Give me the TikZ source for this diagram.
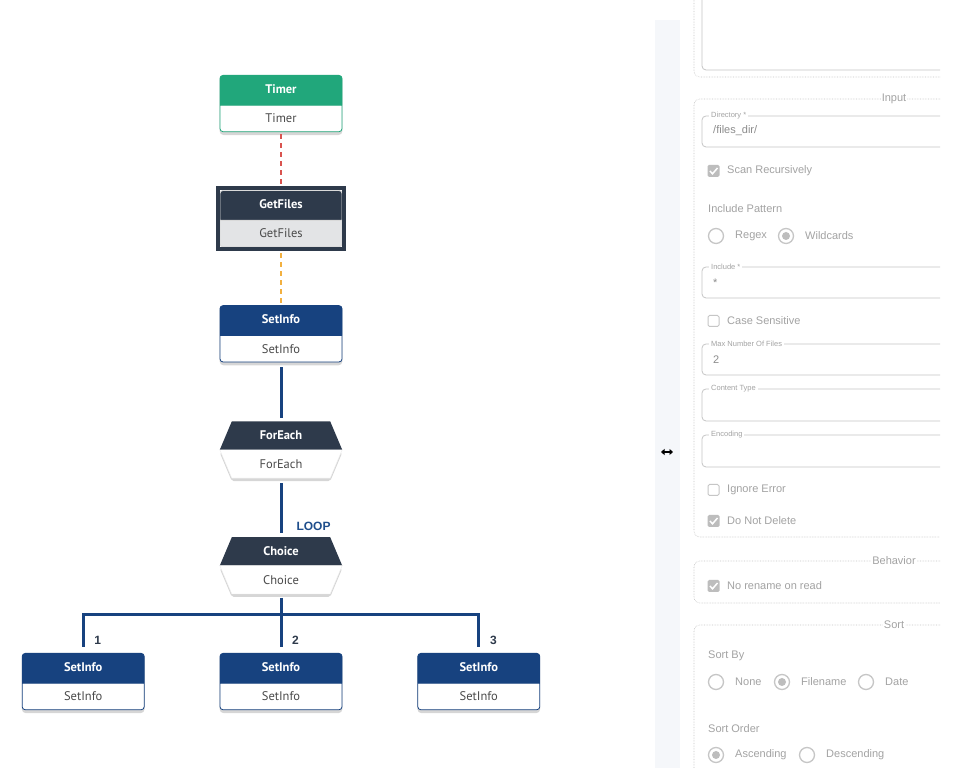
\documentclass[tikz,border=0pt]{standalone}
\usepackage{fontspec}
\setmainfont{Liberation Sans}
\newfontfamily\condfont{PT Sans}
\usepackage{xcolor}
\usepackage{tikz}
\usetikzlibrary{
	arrows.meta,
	positioning,
	fit,
	shapes.multipart,
	backgrounds
}

\definecolor{timergreen}{HTML}{21A77B}
\definecolor{slate}{HTML}{2E3A4B}
\definecolor{navy}{HTML}{17427F}
\definecolor{gfbody}{HTML}{E3E4E6}
\definecolor{bodytext}{HTML}{4A4A4A}
\definecolor{dashred}{HTML}{D9534F}
\definecolor{dashorange}{HTML}{F2B040}
\definecolor{loopblue}{HTML}{1F4E8C}
\definecolor{formtext}{HTML}{A3A3A3}
\definecolor{valtext}{HTML}{8C8C8C}
\definecolor{formline}{HTML}{C6C6C6}
\definecolor{chkgray}{HTML}{BDBDBD}
\definecolor{strip}{HTML}{F5F7FA}

\tikzset{
	boxshade/.style={fill=black, opacity=0.16, rounded corners=4pt},
	nodebox/.style={rectangle split, rectangle split parts=2, minimum width=122pt,
		inner ysep=8.3pt, text height=9.5pt, text depth=3pt, rounded corners=3pt,
		line width=0.8pt, font=\condfont\fontsize{12.5}{14}\selectfont},
	greenbox/.style={nodebox, draw=timergreen, rectangle split part fill={timergreen, white}},
	navybox/.style={nodebox, draw=navy, rectangle split part fill={navy, white}},
	slatebox/.style={nodebox, draw=gray!30, rectangle split part fill={slate, gfbody}},
	hexhead/.style={rectangle, minimum width=122pt, minimum height=28pt, inner sep=0pt,
		text=white, font=\condfont\bfseries\fontsize{12.5}{14}\selectfont},
	hexbody/.style={hexhead, text=bodytext, font=\condfont\fontsize{12.5}{14}\selectfont},
	timerlink/.style={draw=dashred, line width=2pt, dash pattern=on 5pt off 4pt},
	filelink/.style={draw=dashorange, line width=2pt, dash pattern=on 5pt off 4pt},
	flowline/.style={draw=navy, line width=3pt},
	looplbl/.style={inner sep=0pt, text=loopblue, font=\bfseries\fontsize{12}{14}\selectfont},
	numlbl/.style={inner sep=0pt, text=slate, font=\bfseries\fontsize{12}{14}\selectfont},
	% form panel
	fset/.style={draw=gray!45, densely dotted, line width=0.6pt, rounded corners=6pt},
	fld/.style={draw=formline, line width=0.8pt, rounded corners=4pt},
	flabel/.style={fill=white, inner xsep=2pt, inner ysep=1pt, text=formtext, font=\fontsize{7.5}{9}\selectfont},
	legend/.style={fill=white, inner xsep=1pt, text=formtext, font=\fontsize{11}{13}\selectfont},
	ftext/.style={inner sep=0pt, text=formtext, font=\fontsize{11}{13}\selectfont},
	fvalue/.style={inner sep=0pt, text=valtext, font=\fontsize{11}{13}\selectfont}
}

\newcommand{\hb}[2]{{\color{white}\bfseries #1}\nodepart{two}{\color{bodytext}#2}}

\begin{document}
\begin{tikzpicture}[x=1pt, y=1pt]
		\useasboundingbox (0,0) rectangle (961,783);
		
		% flow
		\node[greenbox, anchor=north] (timer) at (281,708) {\hb{Timer}{Timer}};
		\node[slatebox, below=58pt of timer] (getfiles) {\hb{GetFiles}{GetFiles}};
		\node[fit=(getfiles), inner sep=2pt, draw=slate, line width=4pt] (gframe) {};
		\node[navybox, below=58pt of getfiles] (setinfo) {\hb{SetInfo}{SetInfo}};
		\node[hexhead, below=59pt of setinfo] (foreach) {ForEach};
		\node[hexbody, below=0pt of foreach] (foreachb) {ForEach};
		\node[hexhead, below=59pt of foreachb] (choice) {Choice};
		\node[hexbody, below=0pt of choice] (choiceb) {Choice};
		\node[navybox, below=59pt of choiceb] (s2) {\hb{SetInfo}{SetInfo}};
		\node[navybox, left=75pt of s2] (s1) {\hb{SetInfo}{SetInfo}};
		\node[navybox, right=75pt of s2] (s3) {\hb{SetInfo}{SetInfo}};
		\coordinate[below=21pt of choiceb] (bus);
		
		\begin{scope}[on background layer]
			\fill[white] (0,0) rectangle (961,783);
			\foreach \b in {timer, setinfo, s1, s2, s3}
				\fill[boxshade] ([yshift=-3pt]\b.south west) rectangle ([yshift=-1pt]\b.north east);
			% hexagon shapes of ForEach and Choice
			\foreach \h/\b in {foreach/foreachb, choice/choiceb}{
				\fill[boxshade, rounded corners=2pt] ([yshift=-3pt]\b.north west) -- ([xshift=12pt, yshift=-3pt]\b.south west)
					-- ([xshift=-12pt, yshift=-3pt]\b.south east) -- ([yshift=-3pt]\b.north east) -- cycle;
				\fill[slate] (\h.south west) -- ([xshift=12pt]\h.north west)
					-- ([xshift=-12pt]\h.north east) -- (\h.south east) -- cycle;
				\filldraw[fill=white, draw=gray!15] (\b.north west) -- ([xshift=12pt]\b.south west)
					-- ([xshift=-12pt]\b.south east) -- (\b.north east) -- cycle;
			}
		\end{scope}
		
		\draw[timerlink, shorten <=2pt, shorten >=2pt] (timer.south) -- (gframe.north);
		\draw[filelink, shorten <=2pt, shorten >=2pt] (gframe.south) -- (setinfo.north);
		\draw[flowline, shorten <=5pt, shorten >=3pt] (setinfo.south) -- (foreach.north);
		\draw[flowline, shorten <=5pt, shorten >=4pt] (foreachb.south)
			-- node[pos=0.81, right=14pt, looplbl] (loop) {LOOP} (choice.north);
		\draw[flowline, shorten <=4pt] (choiceb.south) -- (bus);
		\foreach \s in {s1,s2,s3}
			\draw[flowline, shorten >=6pt] (bus) -| (\s.north);
		\foreach \s/\n in {s1/1, s2/2, s3/3}
			\node[numlbl, above right=8pt and 11pt of \s.north] (n\n) {\n};
		
		% form panel
		\fill[strip] (655,15) rectangle (680,763);
		\draw[{Triangle[length=3.5pt,width=6pt]}-{Triangle[length=3.5pt,width=6pt]}, line width=1.6pt]
			(661,331) -- (673,331);
		
		\draw[fset] (694,783) -- (694,706) -- (940,706);
		\draw[fld] (702,783) -- (702,713) -- (940,713);
		
		\draw[fset] (940,684) -- (694,684) -- (694,246) -- (940,246);
		\node[legend] (input) at (894,684) {Input};
		\draw[fset] (940,222) -- (694,222) -- (694,180) -- (940,180);
		\node[legend] (behavior) at (894,222) {Behavior};
		\draw[fset] (940,158) -- (694,158) -- (694,15);
		\node[legend] (sort) at (894,158) {Sort};
		
		\foreach \ytop/\ybot/\lbl in {667/636/Directory *, 516/485/Include *,
			439/408/Max Number Of Files, 394/362/Content Type, 348/316/Encoding}{
			\draw[fld] (940,\ytop) -- (702,\ytop) -- (702,\ybot) -- (940,\ybot);
			\node[flabel, anchor=west] at (709,\ytop) {\lbl};
		}
		\node[fvalue, anchor=west] (dir) at (713,652) {/files\_dir/};
		\node[fvalue, anchor=west] (incl) at (713,500) {*};
		\node[fvalue, anchor=west] (maxn) at (713,423) {2};
		
		\foreach \yy/\lbl/\on in {612/Scan Recursively/1, 462/Case Sensitive/0,
			293/Ignore Error/0, 262/Do Not Delete/1, 197/No rename on read/1}{
			\ifnum\on=1
				\fill[chkgray, rounded corners=1.5pt] (707.5,\yy-6) rectangle ++(12,12);
				\draw[white, line width=1.5pt] (710,\yy) -- (712.5,\yy-2.8) -- (717.5,\yy+3);
			\else
				\draw[formline, line width=1pt, rounded corners=1.5pt] (708,\yy-5.5) rectangle ++(11,11);
			\fi
			\node[ftext, anchor=west] (c\yy) at (727,\yy) {\lbl};
		}
		
		\node[ftext, anchor=west] (pattern) at (708,574) {Include Pattern};
		\node[ftext, anchor=west] (sortby) at (708,127) {Sort By};
		\node[ftext, anchor=west] (sortorder) at (708,54) {Sort Order};
		
		\foreach \xx/\yy/\lbl/\on in {716/547/Regex/0, 786/547/Wildcards/1,
			716/101/None/0, 782/101/Filename/1, 866/101/Date/0,
			716/28/Ascending/1, 807/28/Descending/0}{
			\draw[formline, line width=1.3pt] (\xx,\yy) circle (7.5pt);
			\ifnum\on=1
				\fill[chkgray] (\xx,\yy) circle (4pt);
			\fi
			\node[ftext, anchor=west] (r\xx\yy) at (\xx+19,\yy) {\lbl};
		}
	\end{tikzpicture}
\end{document}
